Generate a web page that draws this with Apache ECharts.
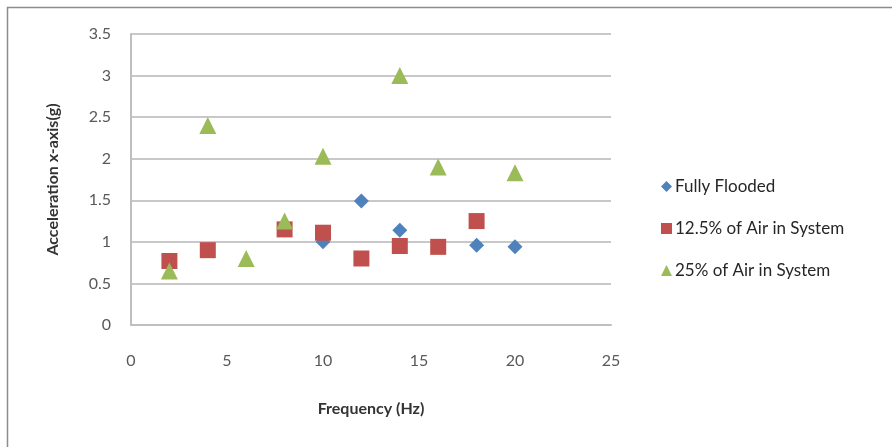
<!DOCTYPE html>
<html>
<head>
<meta charset="utf-8">
<script src="https://cdn.jsdelivr.net/npm/echarts@6/dist/echarts.min.js"></script>
<style>html,body{margin:0;padding:0;background:#fff;}#c{width:892px;height:447px;}</style>
</head>
<body>
<div id="c"></div>
<script>
const seriesNames = ['Fully Flooded', '12.5% of Air in System', '25% of Air in System'];
const fullyFlooded = [[10, 1.0], [12, 1.49], [14, 1.14], [18, 0.96], [20, 0.94]];
const air125 = [[2, 0.77], [4, 0.9], [8, 1.15], [10, 1.11], [12, 0.8], [14, 0.95], [16, 0.94], [18, 1.25]];
const air25 = [[2, 0.65], [4, 2.4], [6, 0.8], [8, 1.25], [10, 2.03], [14, 3.0], [16, 1.9], [20, 1.83]];
const xTitle = 'Frequency (Hz)';
const yTitle = 'Acceleration x-axis(g)';

const colors = ['#4F81BD', '#C0504D', '#9BBB59'];
const font = 'Lato, "Open Sans", sans-serif';
const chart = echarts.init(document.getElementById('c'), null, {renderer: 'canvas'});
chart.setOption({
  animation: false,
  backgroundColor: '#fff',
  color: colors,
  graphic: [{
    type: 'rect', shape: {x: 7.5, y: 7.5, width: 890, height: 445},
    style: {fill: 'none', stroke: '#8c8c8c', lineWidth: 1.5}, silent: true
  }],
  grid: {left: 131, right: 281, top: 34, bottom: 122, containLabel: false},
  legend: {
    orient: 'vertical', left: 661, top: 178,
    itemWidth: 11, itemHeight: 11, itemGap: 25, padding: 0,
    textStyle: {fontFamily: font, fontSize: 17, color: '#262626', padding: [0, 0, 0, -2]},
    data: [
      {name: seriesNames[0], icon: 'diamond'},
      {name: seriesNames[1], icon: 'rect'},
      {name: seriesNames[2], icon: 'triangle'}
    ]
  },
  xAxis: {
    type: 'value', min: 0, max: 25, interval: 5,
    name: xTitle, nameLocation: 'middle', nameGap: 76,
    nameTextStyle: {fontFamily: font, fontSize: 16, fontWeight: 'bold', color: '#333'},
    axisLine: {show: true, lineStyle: {color: '#bfbfbf', width: 2}},
    axisTick: {show: false},
    splitLine: {show: false},
    axisLabel: {fontFamily: font, fontSize: 16, color: '#595959', margin: 28}
  },
  yAxis: {
    type: 'value', min: 0, max: 3.5, interval: 0.5,
    name: yTitle, nameLocation: 'middle', nameGap: 70, nameRotate: 90,
    nameTextStyle: {fontFamily: font, fontSize: 16, fontWeight: 'bold', color: '#333'},
    axisLine: {show: true, lineStyle: {color: '#bfbfbf', width: 2}},
    axisTick: {show: false},
    splitLine: {show: true, lineStyle: {color: '#c8c8c8', width: 2}},
    axisLabel: {fontFamily: font, fontSize: 16, color: '#595959', margin: 20}
  },
  series: [
    {name: seriesNames[0], type: 'scatter', symbol: 'diamond', symbolSize: 15, data: fullyFlooded, itemStyle: {color: colors[0], opacity: 1}},
    {name: seriesNames[1], type: 'scatter', symbol: 'rect', symbolSize: 16, data: air125, itemStyle: {color: colors[1], opacity: 1}},
    {name: seriesNames[2], type: 'scatter', symbol: 'triangle', symbolSize: 17, data: air25, itemStyle: {color: colors[2], opacity: 1}}
  ]
});
</script>
</body>
</html>
